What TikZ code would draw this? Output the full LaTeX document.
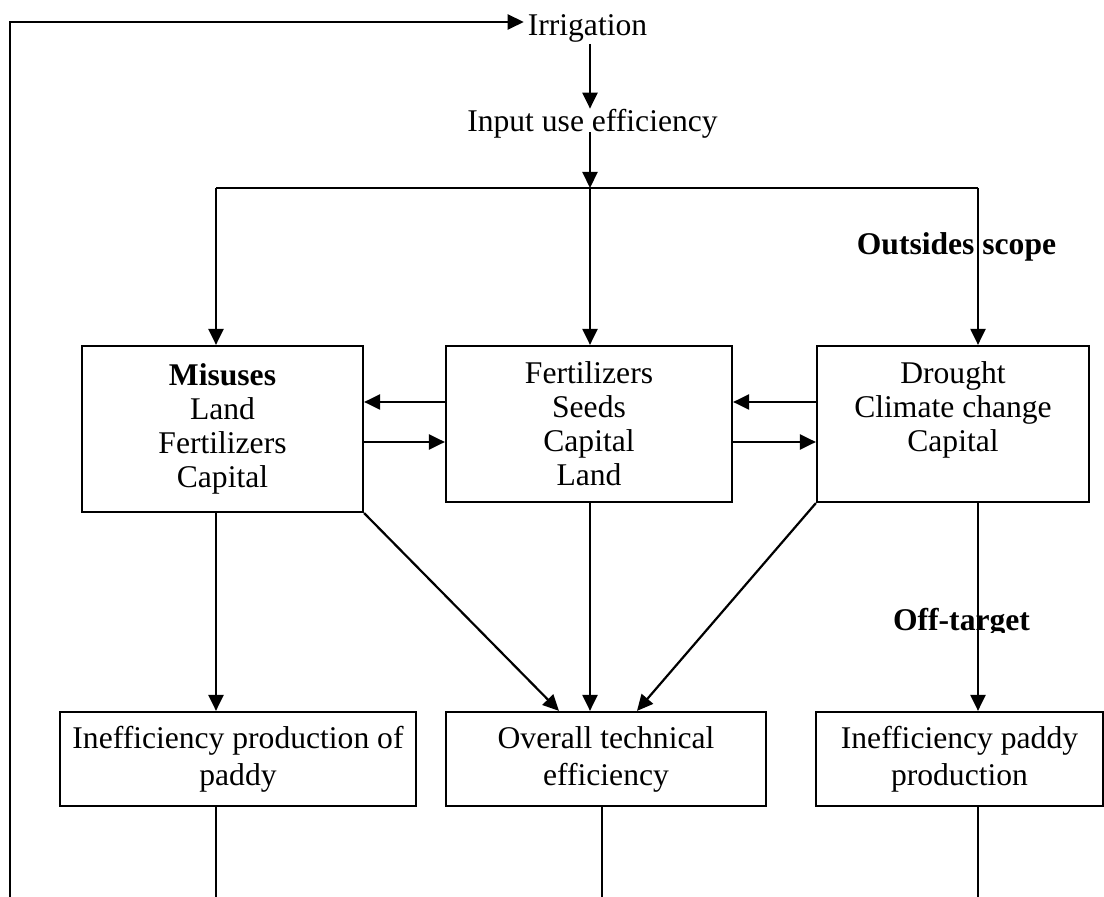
\documentclass[tikz,border=0pt]{standalone}
\usepackage{fontspec}
\setmainfont{Liberation Serif}
\usetikzlibrary{arrows.meta,calc}

\newcommand{\fsize}{\fontsize{15.8}{17}\selectfont}
\newcommand{\fsizewide}{\fontsize{15.8}{18.5}\selectfont}

\begin{document}
\begin{tikzpicture}[x=0.5pt,y=-0.5pt,line width=1.1pt,>={Triangle[length=8pt,width=7.5pt]},
	lbl/.style={inner xsep=1.5pt,inner ysep=0pt,font=\fsize},
	infobox/.style={draw,align=center,inner sep=0pt,font=\fsize},
	resultbox/.style={draw,align=center,inner sep=0pt,font=\fsizewide}]
\useasboundingbox (0,0) rectangle (1104,897);

%helper coordinates
\coordinate (loopT) at (10,22);
\coordinate (loopB) at (10,897);
\coordinate (colL) at (216,188);
\coordinate (split) at (590,188);
\coordinate (colR) at (978,188);
\coordinate (upr) at (0,402);
\coordinate (lwr) at (0,442);
\coordinate (inL) at (559,712);
\coordinate (inR) at (637,712);
\coordinate (stubM) at (602,897);
\coordinate (bot) at (0,897);

%labels
\node[lbl,anchor=base] (irr) at (587.5,36) {Irrigation};
\node[lbl,anchor=base] (input) at (592.5,132) {Input use efficiency};
\node[lbl,anchor=base,font=\fsize\bfseries] (outlbl) at (956.5,255) {Outsides scope};
\begin{scope}
	\clip (880,600) rectangle (1045,633);
	\node[lbl,anchor=base,font=\fsize\bfseries] (offlbl) at (961.5,631) {Off-target};
\end{scope}

%middle row
\node[infobox,minimum width=140.5pt,minimum height=83pt] (misuse) at (222.5,429)
	{\textbf{Misuses}\\Land\\Fertilizers\\Capital};
\node[infobox,minimum width=143pt,minimum height=78pt] (inputs) at (589,424)
	{Fertilizers\\Seeds\\Capital\\Land};
\node[infobox,minimum width=136pt,minimum height=78pt] (outside) at (953,424)
	{Drought\\Climate change\\Capital\\\mbox{}};

%bottom row
\node[resultbox,minimum width=178pt,minimum height=47pt] (ineffL) at (238,759)
	{Inefficiency production of\\paddy};
\node[resultbox,minimum width=160pt,minimum height=47pt] (overall) at (606,759)
	{Overall technical\\efficiency};
\node[resultbox,minimum width=143.5pt,minimum height=47pt] (ineffR) at (959.5,759)
	{Inefficiency paddy\\production};

%feedback loop
\draw[->] (loopB) -- (loopT) -- (loopT -| irr.west);

%top chain
\draw[->] (irr.south -| split) -- (input.north -| split);
\draw[->] (input.base -| split) -- (split);
\draw (colL) -- (colR);
\draw[->] (colL) -- (colL |- misuse.north);
\draw[->] (split) -- (inputs.north -| split);
\draw[->] (colR) -- (colR |- outside.north);

%between boxes
\draw[->] (inputs.west |- upr) -- (misuse.east |- upr);
\draw[->] (misuse.east |- lwr) -- (inputs.west |- lwr);
\draw[->] (outside.west |- upr) -- (inputs.east |- upr);
\draw[->] (inputs.east |- lwr) -- (outside.west |- lwr);

%down to results
\draw[->] (misuse.south -| colL) -- (ineffL.north -| colL);
\draw[->] (misuse.south east) -- (overall.north -| inL);
\draw[->] (inputs.south -| split) -- (overall.north -| split);
\draw[->] (outside.south west) -- (overall.north -| inR);
\draw[->] (outside.south -| colR) -- (ineffR.north -| colR);

%stubs
\draw[line width=0.8pt] (ineffL.south -| colL) -- (colL |- bot);
\draw[line width=0.8pt] (overall.south -| stubM) -- (stubM);
\draw[line width=0.8pt] (ineffR.south -| colR) -- (colR |- bot);
\end{tikzpicture}
\end{document}
